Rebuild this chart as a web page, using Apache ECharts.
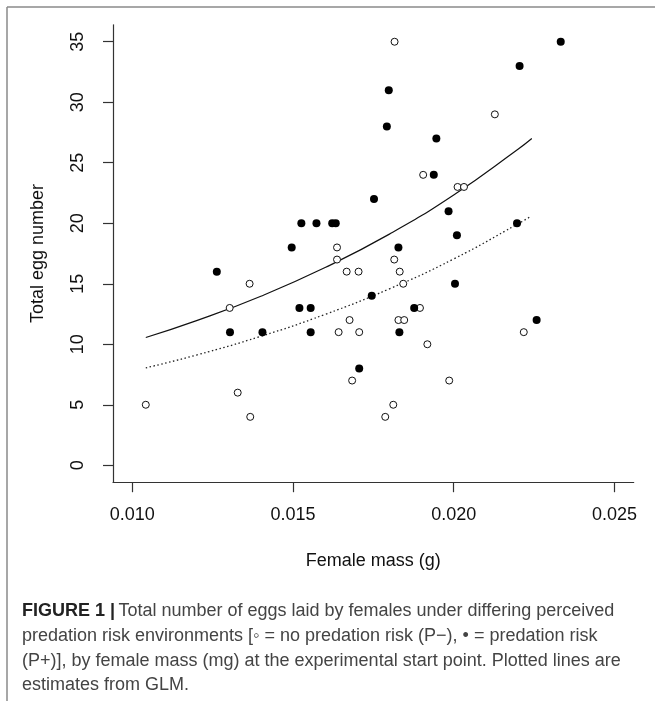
<!DOCTYPE html>
<html>
<head>
<meta charset="utf-8">
<script src="https://cdn.jsdelivr.net/npm/echarts@6/dist/echarts.min.js"></script>
<style>
html,body{margin:0;padding:0;background:#fff;}
#chart{width:655px;height:701px;}
</style>
</head>
<body>
<div id="chart"></div>
<script>
// Predation risk (P+) — filled circles: [female mass (g), total eggs]
const predMass = [0.01263,0.01304,0.01405,0.01496,0.01520,0.01526,0.01555,0.01555,0.01573,0.01622,0.01633,0.01706,0.01745,0.01752,0.01792,0.01798,0.01828,0.01831,0.01877,0.01938,0.01946,0.01984,0.02004,0.02010,0.02197,0.02205,0.02258,0.02333];
const predEggs = [16,11,11,18,13,20,13,11,20,20,20,8,14,22,28,31,18,11,13,24,27,21,15,19,20,33,12,35];
// No predation risk (P-) — open circles
const noPredMass = [0.01042,0.01303,0.01328,0.01365,0.01367,0.01637,0.01637,0.01642,0.01667,0.01676,0.01684,0.01704,0.01706,0.01787,0.01812,0.01815,0.01816,0.01828,0.01832,0.01843,0.01846,0.01895,0.01905,0.01918,0.01986,0.02012,0.02032,0.02128,0.02218];
const noPredEggs = [5,13,6,15,4,18,17,11,16,12,7,16,11,4,5,17,35,12,16,15,12,13,24,10,7,23,23,29,11];
// GLM fitted curves
const fitPredMass = [0.01042,0.012,0.014,0.016,0.018,0.020,0.022,0.02243];
const fitPredEggs = [10.56,11.95,13.97,16.34,19.10,22.34,26.12,27.01];
const fitNoPredMass = [0.01042,0.012,0.014,0.016,0.018,0.020,0.022,0.0224];
const fitNoPredEggs = [8.05,9.11,10.66,12.47,14.58,17.05,19.95,20.57];
// Tick labels
const xTicks = [0.010,0.015,0.020,0.025];
const yTicks = [0,5,10,15,20,25,30,35];

const zip = (a,b) => a.map((v,i)=>[v,b[i]]);
const FONT = 'Liberation Sans, Arial, sans-serif';
const CAP = '18px Liberation Sans, Arial, sans-serif';

const chart = echarts.init(document.getElementById('chart'), null, {renderer:'canvas'});
chart.setOption({
  animation:false,
  backgroundColor:'#fff',
  grid:{left:113, right:21.3, top:24.8, bottom:218.8, containLabel:false},
  xAxis:{
    type:'value', min:0.0094, max:0.0256,
    splitLine:{show:false},
    axisLine:{show:true, onZero:false, lineStyle:{color:'#333', width:1.2}},
    axisTick:{show:true, inside:false, length:10, customValues:xTicks, lineStyle:{color:'#333', width:1.2}},
    axisLabel:{customValues:xTicks, formatter:v=>v.toFixed(3), color:'#111', fontFamily:FONT, fontSize:18, margin:24},
    name:'Female mass (g)', nameLocation:'middle', nameGap:70,
    nameTextStyle:{color:'#111', fontFamily:FONT, fontSize:18}
  },
  yAxis:{
    type:'value', min:-1.4, max:36.4,
    splitLine:{show:false},
    axisLine:{show:true, onZero:false, lineStyle:{color:'#333', width:1.2}},
    axisTick:{show:true, inside:false, length:10, customValues:yTicks, lineStyle:{color:'#333', width:1.2}},
    axisLabel:{customValues:yTicks, rotate:90, color:'#111', fontFamily:FONT, fontSize:18, margin:26},
    name:'Total egg number', nameLocation:'middle', nameGap:66,
    nameTextStyle:{color:'#111', fontFamily:FONT, fontSize:18}
  },
  series:[
    {type:'line', data:zip(fitPredMass,fitPredEggs), smooth:true, symbol:'none',
     lineStyle:{color:'#111', width:1.2, type:'solid'}, z:1},
    {type:'line', data:zip(fitNoPredMass,fitNoPredEggs), smooth:true, symbol:'none',
     lineStyle:{color:'#222', width:1.3, type:[1.5,2.5]}, z:1},
    {type:'scatter', data:zip(noPredMass,noPredEggs), symbol:'circle', symbolSize:7,
     itemStyle:{color:'#fff', borderColor:'#111', borderWidth:1, opacity:1}, z:2},
    {type:'scatter', data:zip(predMass,predEggs), symbol:'circle', symbolSize:8,
     itemStyle:{color:'#000', borderColor:'#000', borderWidth:0, opacity:1}, z:3}
  ],
  graphic:[
    {type:'line', shape:{x1:7, y1:7, x2:655, y2:7}, style:{stroke:'#8a8a8a', lineWidth:1.5}, silent:true},
    {type:'line', shape:{x1:7, y1:7, x2:7, y2:701}, style:{stroke:'#8a8a8a', lineWidth:1.5}, silent:true},
    {type:'text', left:22, top:602, style:{rich:{b:{fontWeight:'bold', fill:'#222', fontFamily:FONT, fontSize:18}, n:{fill:'#444', fontFamily:FONT, fontSize:18}}, text:'{b|FIGURE 1 |} {n|Total number of eggs laid by females under differing perceived}'}},
    {type:'text', left:22, top:627, style:{text:'predation risk environments [\u25E6 = no predation risk (P\u2212), \u2022 = predation risk', fill:'#444', font:CAP}},
    {type:'text', left:22, top:652, style:{text:'(P+)], by female mass (mg) at the experimental start point. Plotted lines are', fill:'#444', font:CAP}},
    {type:'text', left:22, top:676, style:{text:'estimates from GLM.', fill:'#444', font:CAP}}
  ]
});
</script>
</body>
</html>
